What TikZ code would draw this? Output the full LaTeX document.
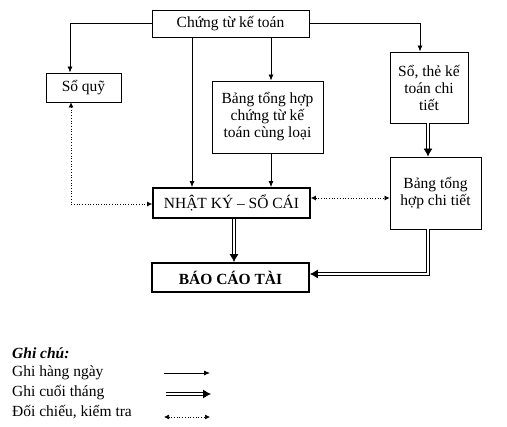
\documentclass[tikz,border=0pt]{standalone}
\usepackage{fontspec}
\setmainfont{Liberation Serif}
\usetikzlibrary{arrows.meta,calc}
\begin{document}
\begin{tikzpicture}[x=1pt,y=-1pt,
  every node/.style={font=\fontsize{15.5}{17}\selectfont},
  box/.style={draw,line width=0.9pt,inner sep=0pt,align=center},
  mainbox/.style={draw,line width=1.8pt,inner sep=0pt,align=center,minimum width=157pt,minimum height=29pt},
  arr/.style={line width=0.8pt,-{Latex[length=6pt,width=5pt]}},
  dbl/.style={double,double distance=1.6pt,line width=0.8pt,-{Latex[length=8pt,width=9pt]}},
  dot/.style={line width=0.7pt,dotted,{Latex[length=5pt,width=5pt]}-{Latex[length=5pt,width=5pt]}},
  lbl/.style={anchor=west,inner sep=0pt}]
\useasboundingbox (0,0) rectangle (507,427);
\node[box,minimum width=157pt,minimum height=27pt] (ct) at (230.5,23.5) {Chứng từ kế toán};
\node[box,minimum width=75pt,minimum height=29pt] (sq) at (83.5,87.5) {Sổ quỹ};
\node[box,minimum width=111pt,minimum height=72pt] (bth) at (267.5,117) {Bảng tổng hợp\\chứng từ kế\\toán cùng loại};
\node[box,minimum width=78pt,minimum height=71pt] (stk) at (429,87.5) {Sổ, thẻ kế\\toán chi\\tiết};
\node[box,minimum width=91pt,minimum height=72pt] (btct) at (435.5,193) {Bảng tổng\\hợp chi tiết};
\node[mainbox,minimum height=30pt] (nk) at (231.5,203) {NHẬT KÝ – SỔ CÁI};
\node[mainbox] (bc) at (230.5,277.5) {\bfseries BÁO CÁO TÀI};
% solid arrows
\draw[arr] (ct.west) -| ([xshift=-13.5pt]sq.north);
\draw[arr] (ct.east) -| ([xshift=-9pt]stk.north);
\coordinate (c1) at ([xshift=-38.5pt]ct.south);
\draw[arr] (c1) -- (c1 |- nk.north);
\coordinate (c2) at ([xshift=40.5pt]ct.south);
\draw[arr] (c2) -- (c2 |- bth.north);
\coordinate (c3) at ([xshift=3.5pt]bth.south);
\draw[arr] (c3) -- (c3 |- nk.north);
% double arrows
\coordinate (c4) at ([xshift=-1pt]stk.south);
\draw[dbl] (c4) -- (c4 |- btct.north);
\coordinate (c5) at ([xshift=2.5pt]nk.south);
\draw[dbl] (c5) -- (c5 |- bc.north);
\coordinate (c6) at ([xshift=-7.5pt]btct.south);
\draw[dbl] (c6) |- ([yshift=3.5pt]bc.east);
% dotted
\coordinate (c7) at ([yshift=5pt]nk.east);
\draw[dot] (c7) -- (c7 -| btct.west);
\coordinate (c8) at ([xshift=-12.5pt]sq.south);
\draw[dot] (c8) |- ([yshift=-1pt]nk.west);
% legend
\node[lbl,font=\fontsize{15.5}{17}\selectfont\bfseries\itshape] (g0) at (12,353) {Ghi chú:};
\node[lbl] (g1) at (12,373) {Ghi hàng ngày};
\node[lbl] (g2) at (12,393) {Ghi cuối tháng};
\node[lbl] (g3) at (12,412) {Đối chiếu, kiểm tra};
\coordinate (a1) at (164,373); \coordinate (b1) at (210,373);
\coordinate (a2) at (166,394); \coordinate (b2) at (211,394);
\coordinate (a3) at (164,417); \coordinate (b3) at (210,417);
\draw[arr] (a1) -- (b1);
\draw[dbl] (a2) -- (b2);
\draw[dot] (a3) -- (b3);
\end{tikzpicture}
\end{document}
